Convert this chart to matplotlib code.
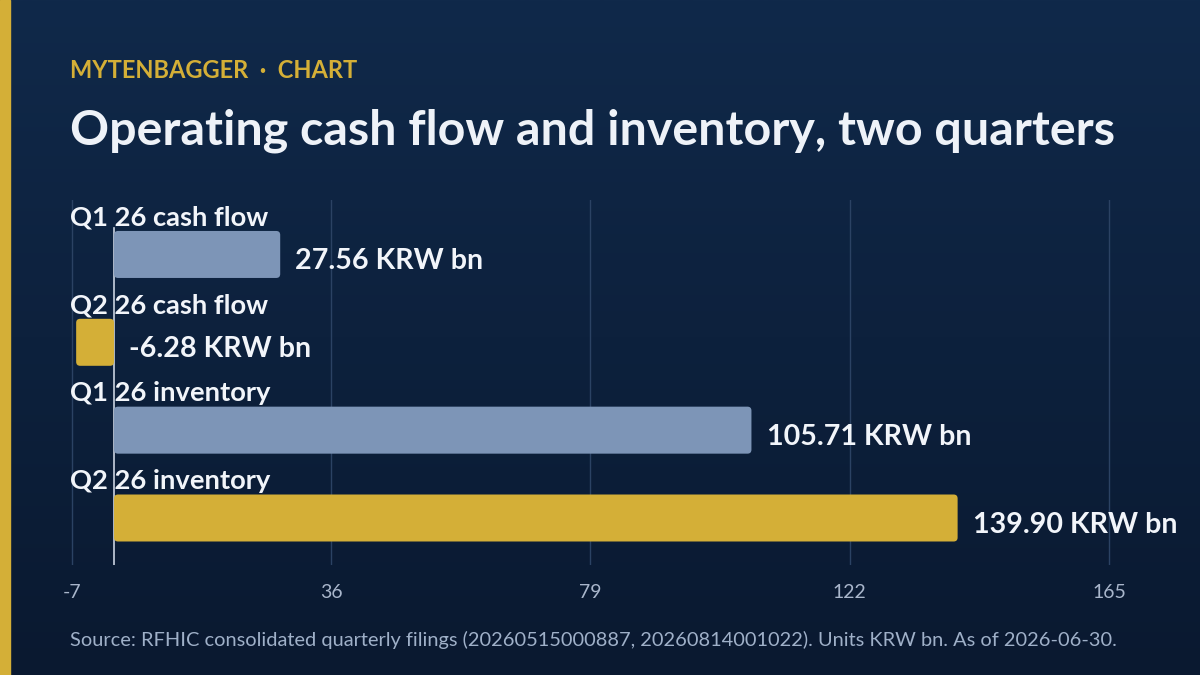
import numpy as np
import matplotlib
matplotlib.use("Agg")
import matplotlib.pyplot as plt
from matplotlib import transforms
from matplotlib.colors import LinearSegmentedColormap
from matplotlib.patches import FancyBboxPatch

plt.rcParams['font.family'] = ['Lato', 'DejaVu Sans']

categories = ["Q1 26 cash flow", "Q2 26 cash flow", "Q1 26 inventory", "Q2 26 inventory"]
values = [27.56, -6.28, 105.71, 139.90]
tick_values = [-7, 36, 79, 122, 165]
value_labels = ["27.56 KRW bn", "-6.28 KRW bn", "105.71 KRW bn", "139.90 KRW bn"]

BLUE = "#7d95b7"
GOLD = "#d4af37"
bar_colors = [BLUE, GOLD, BLUE, GOLD]

fig = plt.figure(figsize=(12, 6.75), dpi=100)

# fond dégradé
bg = fig.add_axes([0, 0, 1, 1], zorder=-10)
grad = np.linspace(0, 1, 256).reshape(-1, 1)
cmap = LinearSegmentedColormap.from_list("bg", ["#10294a", "#0a1930"])
bg.imshow(grad, aspect='auto', cmap=cmap, extent=[0, 1, 0, 1])
bg.axis('off')
# bande dorée à gauche
fig.patches.append(plt.Rectangle((0, 0), 10 / 1200, 1, transform=fig.transFigure,
                                 color=GOLD, zorder=5))

W, H = 1200, 675
ax = fig.add_axes([70 / W, 1 - 565 / H, (1130 - 70) / W, (565 - 200) / H])
ax.set_facecolor('none')

x_min = -7.3
px_per_unit = 6.03
x_max = x_min + (1130 - 70) / px_per_unit
ax.set_xlim(x_min, x_max)
ax.set_ylim(3.535, -0.62)
px_per_row = (565 - 200) / (3.535 + 0.62)

ypos = np.arange(len(categories))
bars = ax.barh(ypos, values, height=0.535, color=bar_colors, zorder=3)
# coins arrondis
for b in bars:
    b.set_visible(False)
    x0 = min(b.get_x(), b.get_x() + b.get_width())
    w = abs(b.get_width())
    rp = FancyBboxPatch((x0, b.get_y()), w, b.get_height(),
                        boxstyle="round,pad=0,rounding_size=%.3f" % (4 / px_per_unit),
                        mutation_aspect=px_per_unit / px_per_row,
                        facecolor=b.get_facecolor(), edgecolor='none', zorder=3)
    ax.add_patch(rp)

ax.set_xticks(tick_values)
ax.set_xticklabels([str(t) for t in tick_values])
ax.tick_params(axis='x', length=0, pad=14, labelsize=14, labelcolor="#a9b6cb")
ax.set_yticks([])
for s in ax.spines.values():
    s.set_visible(False)
ax.grid(axis='x', color="#2b4263", linewidth=1, zorder=0)
ax.plot([0, 0], [3.535, -0.30], color="#c9d2e0", linewidth=1.2, zorder=2)

trans = transforms.blended_transform_factory(ax.transAxes, ax.transData)
for i, (cat, v, lab) in enumerate(zip(categories, values, value_labels)):
    ax.text(0, i - 0.42, cat, transform=trans, ha='left', va='center',
            fontsize=19.7, fontweight='bold', color="#f2f5fa", zorder=4)
    x_lab = max(v, 0) + 2.5
    ax.text(x_lab, i + 0.08, lab, ha='left', va='center', fontsize=20.6,
            fontweight='bold', color="#f2f5fa", zorder=4, clip_on=False)

fig.text(70 / W, 1 - 71 / H, "MYTENBAGGER  ·  CHART", ha='left', va='center',
         fontsize=17, fontweight='bold', color=GOLD)
fig.text(70 / W, 1 - 131 / H, "Operating cash flow and inventory, two quarters",
         ha='left', va='center', fontsize=34.8, fontweight='bold', color="#eef2f8")
fig.text(70 / W, 1 - 640 / H,
         "Source: RFHIC consolidated quarterly filings (20260515000887, 20260814001022). Units KRW bn. As of 2026-06-30.",
         ha='left', va='center', fontsize=14.4, color="#9fb0c8")

fig.savefig("out.png", dpi=100)
